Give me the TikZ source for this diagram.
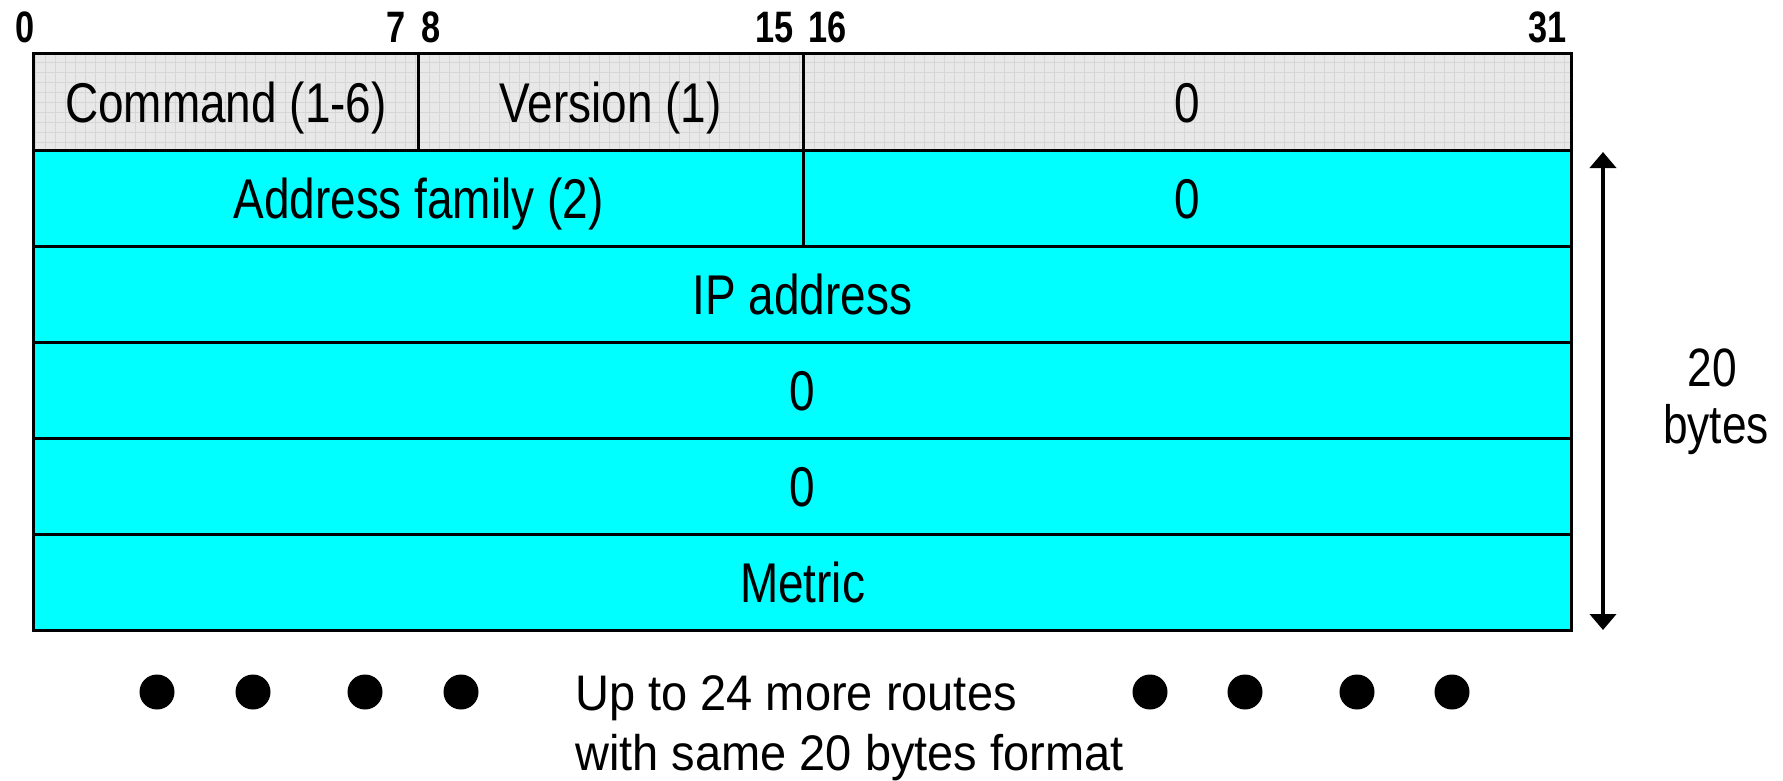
\documentclass[tikz,border=0pt]{standalone}
\usepackage{fontspec}
\setmainfont{Liberation Sans}
\newfontfamily\fieldfont[FakeStretch=0.82]{Liberation Sans}
\newfontfamily\bitfont[FakeStretch=0.78]{Liberation Sans}
\newfontfamily\notefont[FakeStretch=0.94]{Liberation Sans}
\usetikzlibrary{arrows.meta}
\definecolor{routecyan}{RGB}{0,255,255}
\definecolor{hdrgray}{RGB}{232,232,232}
\definecolor{hdrgrid}{RGB}{214,214,214}
\tikzset{
  field/.style={draw=black, line width=3bp, inner sep=0pt, minimum height=96bp,
    text height=40bp, text depth=0pt,
    font=\fieldfont\fontsize{56bp}{60bp}\selectfont},
  hdrfield/.style={field, fill=hdrgray,
    path picture={\draw[hdrgrid, line width=0.8bp]
      (path picture bounding box.south west) grid[step=10bp]
      (path picture bounding box.north east);}},
  entry/.style={field, fill=routecyan},
  bitnum/.style={inner sep=0pt, font=\bitfont\bfseries\fontsize{44bp}{48bp}\selectfont},
  sidelabel/.style={inner sep=0pt, anchor=base, font=\fieldfont\fontsize{54bp}{60bp}\selectfont},
  notetext/.style={inner sep=0pt, anchor=base west, font=\notefont\fontsize{50bp}{60bp}\selectfont},
  dot/.style={circle, fill=black, minimum size=35bp, inner sep=0pt},
  sizearrow/.style={line width=4bp,
    {Triangle[width=26bp,length=16bp]}-{Triangle[width=26bp,length=16bp]}}
}
\begin{document}
\begin{tikzpicture}[x=1bp,y=-1bp]
\useasboundingbox (0,0) rectangle (1783,781);

% bit positions
\node[bitnum, anchor=base west] (b0)  at (15,43)   {0};
\node[bitnum, anchor=base east] (b7)  at (406,43)  {7};
\node[bitnum, anchor=base west] (b8)  at (421,43)  {8};
\node[bitnum, anchor=base east] (b15) at (794,43)  {15};
\node[bitnum, anchor=base west] (b16) at (808,43)  {16};
\node[bitnum, anchor=base east] (b31) at (1567,43) {31};

% RIP header
\node[hdrfield, minimum width=384bp] (cmd)   at (226,102)    {Command (1-6)};
\node[hdrfield, minimum width=385bp] (ver)   at (610.5,102)  {Version (1)};
\node[hdrfield, minimum width=768bp] (hzero) at (1187,102)   {0};

% one 20-byte route entry
\node[entry, minimum width=769bp]  (fam)   at (418.5,198) {Address family (2)};
\node[entry, minimum width=768bp]  (fzero) at (1187,198)  {0};
\node[entry, minimum width=1537bp] (ip)    at (802.5,294) {IP address};
\node[entry, minimum width=1537bp] (zeroa) at (802.5,390) {0};
\node[entry, minimum width=1537bp] (zerob) at (802.5,486) {0};
\node[entry, minimum width=1537bp] (metric) at (802.5,582) {Metric};

% entry size
\coordinate (atop) at (1603,152);
\coordinate (abot) at (1603,630);
\draw[sizearrow] (atop) -- (abot);
\node[sidelabel] (sz1) at (1712,386) {20};
\node[sidelabel] (sz2) at (1716,443) {bytes};

% further routes
\foreach \x [count=\i] in {157,253,365,461,1150,1245,1357,1452}
  \node[dot] (d\i) at (\x,692) {};
\node[notetext] (more1) at (575,710) {Up to 24 more routes};
\node[notetext] (more2) at (575,770) {with same 20 bytes format};
\end{tikzpicture}
\end{document}
